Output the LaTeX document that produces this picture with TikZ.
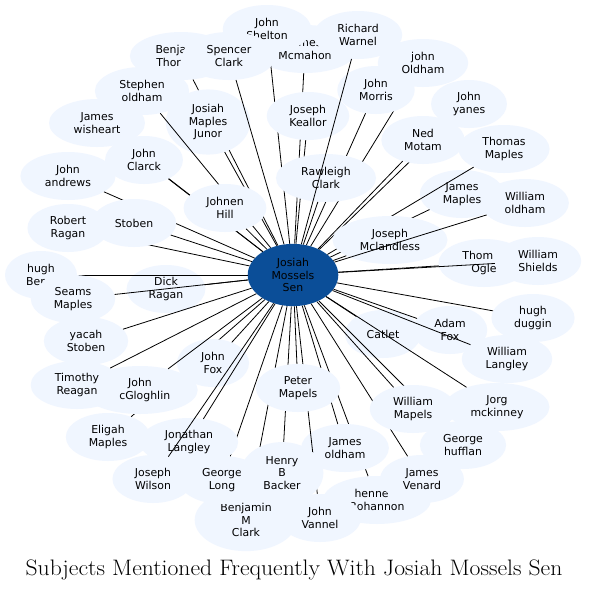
\documentclass[tikz,border=0pt]{standalone}
\usepackage{fontspec}
\newfontfamily\dvs{DejaVu Sans}
\usetikzlibrary{shapes.geometric}
\definecolor{nodefill}{RGB}{240,246,255}
\definecolor{centerfill}{RGB}{11,78,152}
\newcommand{\visl}[2]{\makebox[#1pt][l]{#2}}
\newcommand{\visr}[2]{\makebox[#1pt][r]{#2}}
\begin{document}
\begin{tikzpicture}[x=1pt,y=-1pt,
  person/.style={ellipse, fill=nodefill, draw=none, font=\dvs\fontsize{10.9}{12.5}\selectfont,
    align=center, inner xsep=10.6pt, inner ysep=5.3pt, minimum width=72pt, minimum height=48pt, text=black},
  hub/.style={person, fill=centerfill},
  edge/.style={draw=black, line width=0.8pt}]
\fill[white] (0,0) rectangle (589,590);
\useasboundingbox (0,0) rectangle (589,590);

\node[hub] (c) at (293,275) {Josiah\\Mossels\\Sen};

\node[person] (mcm) at (305,49) {James\\Mcmahon}; \draw[edge] (c) -- (mcm);
\node[person] (benja) at (181,56) {\visl{51}{Benja}\\\visl{49.5}{Thor}}; \draw[edge] (c) -- (benja);
\node[person] (junor) at (208,122) {Josiah\\Maples\\Junor}; \draw[edge] (c) -- (junor);
\node[person] (shelton) at (267,29) {John\\Shelton}; \draw[edge] (c) -- (shelton);
\node[person] (spencer) at (229,56) {Spencer\\Clark}; \draw[edge] (c) -- (spencer);
\node[person] (keallor) at (308,116) {Joseph\\Keallor}; \draw[edge] (c) -- (keallor);
\node[person] (joldham) at (423,63) {john\\Oldham}; \draw[edge] (c) -- (joldham);
\node[person] (morris) at (376,90) {John\\Morris}; \draw[edge] (c) -- (morris);
\node[person] (rawleigh) at (326,178) {Rawleigh\\Clark}; \draw[edge] (c) -- (rawleigh);
\node[person] (warnel) at (358,35) {Richard\\Warnel}; \draw[edge] (c) -- (warnel);
\node[person] (stephen) at (142,91) {Stephen\\oldham}; \draw[edge] (c) -- (stephen);
\node[person] (wisheart) at (97,123) {James\\wisheart}; \draw[edge] (c) -- (wisheart);
\node[person] (clarck) at (144,160) {John\\Clarck}; \draw[edge] (c) -- (clarck);
\node[person] (johnen) at (225,208) {Johnen\\Hill}; \draw[edge] (c) -- (johnen);
\node[person] (andrews) at (68,176) {John\\andrews}; \draw[edge] (c) -- (andrews);
\node[person] (robert) at (68,228) {Robert\\Ragan}; \draw[edge] (c) -- (robert);
\node[person] (stoben) at (134,223) {Stoben}; \draw[edge] (c) -- (stoben);
\node[person] (yanes) at (469,104) {John\\yanes}; \draw[edge] (c) -- (yanes);
\node[person] (ned) at (423,140) {Ned\\Motam}; \draw[edge] (c) -- (ned);
\node[person] (jmaples) at (462,194) {James\\Maples}; \draw[edge] (c) -- (jmaples);
\node[person] (tmaples) at (504,149) {Thomas\\Maples}; \draw[edge] (c) -- (tmaples);
\node[person] (mcland) at (390,240) {Joseph\\Mclandless}; \draw[edge] (c) -- (mcland);
\node[person] (woldham) at (525,203) {William\\oldham}; \draw[edge] (c) -- (woldham);
\node[person] (ogle) at (484,263) {\visl{43.2}{Thom}\\Ogle}; \draw[edge] (c) -- (ogle);
\node[person] (shields) at (538,261) {William\\Shields}; \draw[edge] (c) -- (shields);
\node[person] (dick) at (166,289) {Dick\\Ragan}; \draw[edge] (c) -- (dick);
\node[person] (hughb) at (41,275) {hugh\\\visl{29.6}{Ber}}; \draw[edge] (c) -- (hughb);
\node[person] (seams) at (73,299) {Seams\\Maples}; \draw[edge] (c) -- (seams);
\node[person] (yacah) at (86,341) {yacah\\Stoben}; \draw[edge] (c) -- (yacah);
\node[person] (catlet) at (383,334) {Catlet}; \draw[edge] (c) -- (catlet);
\node[person] (adam) at (450,330) {Adam\\Fox}; \draw[edge] (c) -- (adam);
\node[person] (duggin) at (533,318) {hugh\\duggin}; \draw[edge] (c) -- (duggin);
\node[person] (wlangley) at (507,359) {William\\Langley}; \draw[edge] (c) -- (wlangley);
\node[person] (eligah) at (108,437) {Eligah\\Maples}; \draw[edge] (c) -- (eligah);
\node[person] (jfox) at (213,363) {John\\Fox}; \draw[edge] (c) -- (jfox);
\node[person] (mcg) at (140,390) {John\\\visr{60.4}{cGloghlin}}; \draw[edge] (c) -- (mcg);
\node[person] (timothy) at (77,385) {Timothy\\Reagan}; \draw[edge] (c) -- (timothy);
\node[person] (jorg) at (497,407) {Jorg\\mckinney}; \draw[edge] (c) -- (jorg);
\node[person] (hennery) at (377,500) {\visl{45}{henne}\\Bohannon}; \draw[edge] (c) -- (hennery);
\node[person] (venard) at (422,479) {James\\Venard}; \draw[edge] (c) -- (venard);
\node[person] (hufflan) at (463,445) {George\\hufflan}; \draw[edge] (c) -- (hufflan);
\node[person] (wmapels) at (413,409) {William\\Mapels}; \draw[edge] (c) -- (wmapels);
\node[person] (jsoldham) at (345,448) {James\\oldham}; \draw[edge] (c) -- (jsoldham);
\node[person] (vannel) at (320,518) {John\\Vannel}; \draw[edge] (c) -- (vannel);
\node[person] (benjamin) at (246,520) {Benjamin\\M\\Clark}; \draw[edge] (c) -- (benjamin);
\node[person] (glong) at (222,480) {George\\Long}; \draw[edge] (c) -- (glong);
\node[person] (jonathan) at (189,442) {Jonathan\\Langley}; \draw[edge] (c) -- (jonathan);
\node[person] (wilson) at (153,479) {Joseph\\Wilson}; \draw[edge] (c) -- (wilson);
\node[person] (henry) at (282,473) {Henry\\B\\Backer}; \draw[edge] (c) -- (henry);
\node[person] (peter) at (298,388) {Peter\\Mapels}; \draw[edge] (c) -- (peter);

\node[font=\fontsize{22.4}{27}\selectfont, inner sep=0pt] (title) at (294,570) {\scalebox{1.055}[1]{Subjects Mentioned Frequently With Josiah Mossels Sen}};
\end{tikzpicture}
\end{document}
